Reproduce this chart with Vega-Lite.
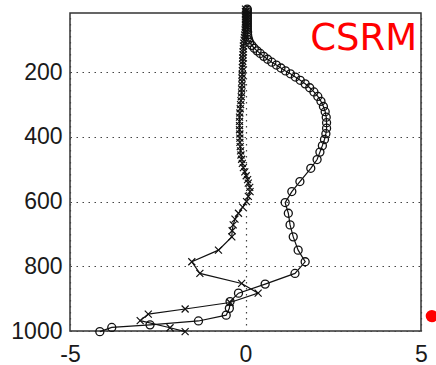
{
  "$schema": "https://vega.github.io/schema/vega-lite/v6.json",
  "width": 351,
  "height": 318,
  "autosize": {"type": "none"},
  "padding": {"left": 70, "top": 13, "right": 15, "bottom": 34},
  "background": "white",
  "config": {
    "view": {"stroke": "#333", "strokeWidth": 1.5},
    "axis": {
      "labelFont": "Liberation Sans",
      "labelFontSize": 23,
      "labelColor": "#1a1a1a",
      "ticks": false,
      "domain": false,
      "grid": true,
      "gridColor": "#444",
      "gridDash": [1.5, 4.5],
      "gridWidth": 1.2,
      "labelFlush": false,
      "labelOverlap": false,
      "labelExpr": "'' + datum.value",
      "title": null
    }
  },
  "datasets": {
    "circ": [
      {"p": 5, "v": 0.05}, {"p": 9, "v": 0.05}, {"p": 14, "v": 0.05}, {"p": 19, "v": 0.05}, {"p": 24, "v": 0.05},
      {"p": 29, "v": 0.05}, {"p": 34, "v": 0.05}, {"p": 39, "v": 0.05}, {"p": 44, "v": 0.05},
      {"p": 49, "v": 0.05}, {"p": 54, "v": 0.05}, {"p": 59, "v": 0.05}, {"p": 64, "v": 0.05},
      {"p": 69, "v": 0.05}, {"p": 76, "v": 0.06}, {"p": 84, "v": 0.06}, {"p": 92, "v": 0.07},
      {"p": 100, "v": 0.09}, {"p": 108, "v": 0.12}, {"p": 117, "v": 0.18}, {"p": 126, "v": 0.25},
      {"p": 134, "v": 0.33}, {"p": 142, "v": 0.42}, {"p": 151, "v": 0.52}, {"p": 160, "v": 0.63},
      {"p": 169, "v": 0.75}, {"p": 178, "v": 0.88}, {"p": 187, "v": 1.01}, {"p": 196, "v": 1.14},
      {"p": 205, "v": 1.28}, {"p": 215, "v": 1.42}, {"p": 225, "v": 1.56}, {"p": 236, "v": 1.7},
      {"p": 248, "v": 1.83}, {"p": 261, "v": 1.95}, {"p": 275, "v": 2.06}, {"p": 290, "v": 2.15},
      {"p": 306, "v": 2.22}, {"p": 322, "v": 2.27}, {"p": 339, "v": 2.3}, {"p": 356, "v": 2.31},
      {"p": 373, "v": 2.31}, {"p": 390, "v": 2.29}, {"p": 408, "v": 2.25}, {"p": 427, "v": 2.19},
      {"p": 447, "v": 2.12}, {"p": 470, "v": 2.04}, {"p": 497, "v": 1.86}, {"p": 538, "v": 1.55},
      {"p": 569, "v": 1.32}, {"p": 603, "v": 1.13}, {"p": 636, "v": 1.22}, {"p": 672, "v": 1.27},
      {"p": 709, "v": 1.36}, {"p": 750, "v": 1.5}, {"p": 786, "v": 1.7}, {"p": 822, "v": 1.41},
      {"p": 855, "v": 0.56}, {"p": 883, "v": -0.2}, {"p": 909, "v": -0.44}, {"p": 930, "v": -0.46},
      {"p": 951, "v": -0.55}, {"p": 969, "v": -1.34}, {"p": 981, "v": -2.72}, {"p": 989, "v": -3.81},
      {"p": 1002, "v": -4.15}
    ],
    "xs": [
      {"p": 5, "v": 0.0}, {"p": 13, "v": 0.0}, {"p": 21, "v": 0.0}, {"p": 29, "v": 0.0},
      {"p": 37, "v": 0.0}, {"p": 45, "v": 0.0}, {"p": 53, "v": 0.0}, {"p": 61, "v": 0.0},
      {"p": 69, "v": -0.01}, {"p": 77, "v": -0.01}, {"p": 85, "v": -0.02}, {"p": 93, "v": -0.03},
      {"p": 101, "v": -0.04}, {"p": 110, "v": -0.05}, {"p": 119, "v": -0.06}, {"p": 128, "v": -0.06},
      {"p": 137, "v": -0.07}, {"p": 146, "v": -0.07}, {"p": 156, "v": -0.08}, {"p": 166, "v": -0.08},
      {"p": 176, "v": -0.08}, {"p": 186, "v": -0.09}, {"p": 196, "v": -0.09}, {"p": 207, "v": -0.09},
      {"p": 218, "v": -0.1}, {"p": 229, "v": -0.1}, {"p": 240, "v": -0.1}, {"p": 252, "v": -0.11},
      {"p": 264, "v": -0.11}, {"p": 276, "v": -0.12}, {"p": 288, "v": -0.13}, {"p": 300, "v": -0.14},
      {"p": 313, "v": -0.15}, {"p": 326, "v": -0.16}, {"p": 339, "v": -0.17}, {"p": 352, "v": -0.17},
      {"p": 365, "v": -0.17}, {"p": 378, "v": -0.17}, {"p": 391, "v": -0.16}, {"p": 404, "v": -0.16},
      {"p": 417, "v": -0.16}, {"p": 430, "v": -0.15}, {"p": 443, "v": -0.14}, {"p": 456, "v": -0.13},
      {"p": 469, "v": -0.11}, {"p": 482, "v": -0.09}, {"p": 495, "v": -0.06}, {"p": 508, "v": -0.02},
      {"p": 520, "v": 0.02}, {"p": 532, "v": 0.06}, {"p": 543, "v": 0.08}, {"p": 556, "v": 0.12},
      {"p": 569, "v": 0.13}, {"p": 584, "v": 0.08}, {"p": 600, "v": 0.03}, {"p": 617, "v": -0.08},
      {"p": 636, "v": -0.2}, {"p": 654, "v": -0.3}, {"p": 672, "v": -0.35}, {"p": 690, "v": -0.38},
      {"p": 709, "v": -0.39}, {"p": 750, "v": -0.77}, {"p": 786, "v": -1.53}, {"p": 822, "v": -1.3},
      {"p": 853, "v": -0.11}, {"p": 883, "v": 0.36}, {"p": 912, "v": -0.44}, {"p": 932, "v": -1.72},
      {"p": 948, "v": -2.77}, {"p": 968, "v": -3.0}, {"p": 990, "v": -2.15}, {"p": 1002, "v": -1.72}
    ],
    "label": [{"p": 131, "v": 4.89, "t": "CSRM"}],
    "dot": [{"p": 954, "v": 5.31}]
  },
  "encoding": {
    "x": {
      "field": "v", "type": "quantitative",
      "scale": {"domain": [-5, 5], "nice": false, "zero": false},
      "axis": {"values": [-5, 0, 5], "labelPadding": 12}
    },
    "y": {
      "field": "p", "type": "quantitative",
      "scale": {"domain": [17, 1000], "reverse": true, "nice": false, "zero": false},
      "axis": {"values": [200, 400, 600, 800, 1000], "labelPadding": 8}
    }
  },
  "layer": [
    {
      "data": {"name": "circ"},
      "mark": {"type": "line", "color": "#111", "strokeWidth": 1.2},
      "encoding": {"order": {"field": "p", "type": "quantitative"}}
    },
    {
      "data": {"name": "xs"},
      "mark": {"type": "line", "color": "#111", "strokeWidth": 1.2},
      "encoding": {"order": {"field": "p", "type": "quantitative"}}
    },
    {
      "data": {"name": "circ"},
      "mark": {"type": "point", "shape": "circle", "filled": false, "stroke": "#111", "strokeWidth": 1.3, "size": 64, "opacity": 1}
    },
    {
      "data": {"name": "xs"},
      "mark": {"type": "point", "shape": "M-1,-1L1,1M-1,1L1,-1", "filled": false, "stroke": "#111", "strokeWidth": 1.2, "size": 49, "opacity": 1}
    },
    {
      "data": {"name": "label"},
      "mark": {"type": "text", "align": "right", "baseline": "alphabetic", "font": "DejaVu Sans", "fontSize": 37, "color": "#ff0000"},
      "encoding": {"text": {"field": "t"}}
    },
    {
      "data": {"name": "dot"},
      "mark": {"type": "point", "shape": "circle", "filled": true, "color": "#ff0000", "size": 154, "opacity": 1, "clip": false}
    }
  ]
}
